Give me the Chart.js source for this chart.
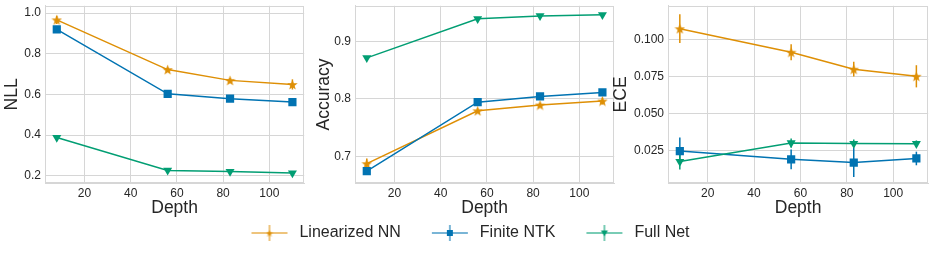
<!DOCTYPE html>
<html><head><meta charset="utf-8">
<script src="https://cdn.jsdelivr.net/npm/chart.js@4"></script>
<style>
html,body{margin:0;padding:0;background:#fff;width:934px;height:254px;overflow:hidden;position:relative}
canvas{position:absolute}
</style></head><body>
<canvas id="c1" style="left:0px;top:0px;width:310px;height:220px" width="310" height="220"></canvas>
<canvas id="c2" style="left:310px;top:0px;width:310px;height:220px" width="310" height="220"></canvas>
<canvas id="c3" style="left:610px;top:0px;width:324px;height:220px" width="324" height="220"></canvas>
<canvas id="leg" style="left:0px;top:198px;width:934px;height:56px" width="934" height="56"></canvas>
<script>
// ---- data ----
const depth = [8, 56, 83, 110];
const seriesNames = ['Linearized NN', 'Finite NTK', 'Full Net'];

const nllLinear = [0.967, 0.722, 0.669, 0.649];
const nllFinite = [0.920, 0.603, 0.579, 0.562];
const nllFull   = [0.388, 0.226, 0.220, 0.213];
const nllLinearErr = [0.020, 0.010, 0.010, 0.025];
const nllFiniteErr = [0.015, 0.006, 0.006, 0.006];
const nllFullErr   = [0.006, 0.004, 0.004, 0.004];

const accLinear = [0.687, 0.779, 0.789, 0.796];
const accFinite = [0.674, 0.794, 0.804, 0.811];
const accFull   = [0.871, 0.939, 0.944, 0.946];
const accLinearErr = [0.009, 0.004, 0.003, 0.006];
const accFiniteErr = [0.006, 0.004, 0.005, 0.004];
const accFullErr   = [0.003, 0.002, 0.002, 0.002];

const eceLinear = [0.1076, 0.0917, 0.0802, 0.0754];
const eceFinite = [0.0248, 0.0192, 0.0170, 0.0198];
const eceFull   = [0.0177, 0.0303, 0.0299, 0.0298];
const eceLinearErr = [0.0097, 0.0054, 0.0050, 0.0075];
const eceFiniteErr = [0.0092, 0.0067, 0.0098, 0.0046];
const eceFullErr   = [0.0054, 0.0030, 0.0028, 0.0022];

const xTicks = [20, 40, 60, 80, 100];
const nllTicks = [0.2, 0.4, 0.6, 0.8, 1.0];
const nllTickLabels = ['0.2', '0.4', '0.6', '0.8', '1.0'];
const accTicks = [0.7, 0.8, 0.9];
const accTickLabels = ['0.7', '0.8', '0.9'];
const eceTicks = [0.025, 0.050, 0.075, 0.100];
const eceTickLabels = ['0.025', '0.050', '0.075', '0.100'];

// ---- style ----
const FONT = "'Liberation Sans', Arial, Helvetica, sans-serif";
const TEXT = '#262626';
const GRID = '#d6d6d6';
const colors = ['#de8f05', '#0173b2', '#029e73'];
Chart.defaults.font.family = FONT;
Chart.defaults.color = TEXT;

function starImage(size, color) {
  const c = document.createElement('canvas');
  c.width = size; c.height = size;
  const g = c.getContext('2d');
  const R = size / 2, r = R * 0.42;
  g.fillStyle = color;
  g.beginPath();
  for (let k = 0; k < 10; k++) {
    const rad = k % 2 === 0 ? R : r;
    const a = -Math.PI / 2 + k * Math.PI / 5;
    const px = R + rad * Math.cos(a), py = R + 0.5 + rad * Math.sin(a);
    k === 0 ? g.moveTo(px, py) : g.lineTo(px, py);
  }
  g.closePath(); g.fill();
  return c;
}

function legendIcon(i) {
  const c = document.createElement('canvas');
  c.width = 40; c.height = 20;
  const g = c.getContext('2d');
  g.strokeStyle = colors[i]; g.fillStyle = colors[i];
  g.globalAlpha = 0.7; g.lineWidth = 1.5;
  g.beginPath(); g.moveTo(2, 10); g.lineTo(38, 10); g.stroke();
  g.beginPath(); g.moveTo(20, 2); g.lineTo(20, 18); g.stroke();
  g.globalAlpha = 1;
  if (i === 0) {
    g.drawImage(starImage(7, colors[0]), 16.5, 6.5);
  } else if (i === 1) {
    g.fillRect(17, 7, 6, 6);
  } else {
    g.beginPath(); g.moveTo(16.5, 7.5); g.lineTo(23.5, 7.5); g.lineTo(20, 13.5); g.closePath(); g.fill();
  }
  return c;
}

const markerStyles = [starImage(11, colors[0]), 'rect', 'triangle'];
const markerRadius = [5, 5.8, 5.2];
const markerRotation = [0, 0, 180];

const errorBarPlugin = {
  id: 'errbars',
  beforeDatasetsDraw(chart) {
    const {ctx, chartArea: a, scales: {x, y}} = chart;
    ctx.save();
    ctx.strokeStyle = GRID; ctx.lineWidth = 1;
    ctx.strokeRect(Math.round(a.left) + 0.5, Math.round(a.top) + 0.5, Math.round(a.right - a.left) - 1, Math.round(a.bottom - a.top) - 1);
    chart.data.datasets.forEach(ds => {
      if (!ds.errors) return;
      ctx.strokeStyle = ds.borderColor; ctx.lineWidth = 1.5;
      ds.data.forEach((pt, j) => {
        const px = x.getPixelForValue(pt.x);
        ctx.beginPath();
        ctx.moveTo(px, y.getPixelForValue(pt.y - ds.errors[j]));
        ctx.lineTo(px, y.getPixelForValue(pt.y + ds.errors[j]));
        ctx.stroke();
      });
    });
    ctx.restore();
  }
};

function makePanel(id, yTitle, yMin, yMax, yTicks, yLabels, values, errors, axisW, titlePad, padRight) {
  const datasets = values.map((vals, i) => ({
    label: seriesNames[i],
    data: depth.map((d, j) => ({x: d, y: vals[j]})),
    errors: errors[i],
    borderColor: colors[i],
    backgroundColor: colors[i],
    borderWidth: 1.5,
    pointStyle: markerStyles[i],
    pointRadius: markerRadius[i],
    pointRotation: markerRotation[i],
    pointBorderWidth: 0,
    pointBackgroundColor: colors[i],
    order: 3 - i,
    tension: 0
  }));
  return new Chart(document.getElementById(id), {
    type: 'line',
    data: {datasets},
    plugins: [errorBarPlugin],
    options: {
      responsive: false, animation: false, events: [],
      layout: {padding: {left: 0, right: padRight, top: 5, bottom: 0}},
      plugins: {legend: {display: false}, tooltip: {enabled: false}},
      scales: {
        x: {
          type: 'linear', min: 2.9, max: 115.1,
          afterBuildTicks: s => { s.ticks = xTicks.map(v => ({value: v})); },
          afterFit: s => { s.height = 37; s.paddingLeft = 0; s.paddingRight = 0; },
          ticks: {padding: 3, font: {size: 12}, color: TEXT, callback: v => String(v), maxRotation: 0},
          grid: {color: GRID, lineWidth: 1, drawTicks: false},
          border: {color: GRID, width: 1},
          title: {display: true, text: 'Depth', font: {size: 17.5}, color: TEXT, padding: {top: 0, bottom: 1}}
        },
        y: {
          type: 'linear', min: yMin, max: yMax,
          afterBuildTicks: s => { s.ticks = yTicks.map(v => ({value: v})); },
          afterFit: s => { s.width = axisW; s.paddingTop = 0; s.paddingBottom = 0; },
          ticks: {padding: 4, font: {size: 12}, color: TEXT,
                  callback: (v) => { const k = yTicks.findIndex(t => Math.abs(t - v) < 1e-9); return k >= 0 ? yLabels[k] : ''; }},
          grid: {color: GRID, lineWidth: 1, drawTicks: false},
          border: {color: GRID, width: 1},
          title: {display: true, text: yTitle, font: {size: 17.5}, color: TEXT, padding: {top: titlePad, bottom: 0}}
        }
      }
    }
  });
}

makePanel('c1', 'NLL', 0.164, 1.036, nllTicks, nllTickLabels,
  [nllLinear, nllFinite, nllFull], [nllLinearErr, nllFiniteErr, nllFullErr], 45, 1.5, 4);
makePanel('c2', 'Accuracy', 0.6534, 0.9616, accTicks, accTickLabels,
  [accLinear, accFinite, accFull], [accLinearErr, accFiniteErr, accFullErr], 45, 4, 4);
makePanel('c3', 'ECE', 0.0032, 0.1231, eceTicks, eceTickLabels,
  [eceLinear, eceFinite, eceFull], [eceLinearErr, eceFiniteErr, eceFullErr], 58, 0.5, 5);

const legendIcons = [0, 1, 2].map(legendIcon);
new Chart(document.getElementById('leg'), {
  type: 'line',
  data: {datasets: seriesNames.map((n, i) => ({label: n, data: [], borderColor: colors[i]}))},
  options: {
    responsive: false, animation: false, events: [],
    layout: {padding: {left: 3, top: 0}},
    scales: {x: {display: false}, y: {display: false}},
    plugins: {
      tooltip: {enabled: false},
      legend: {
        display: true, position: 'top', maxHeight: 56,
        labels: {
          usePointStyle: true, pointStyleWidth: 44, padding: 27, color: TEXT,
          font: {size: 16},
          generateLabels: chart => chart.data.datasets.map((d, i) => ({
            text: d.label, pointStyle: legendIcons[i], fillStyle: colors[i], strokeStyle: colors[i],
            lineWidth: 0, hidden: false, datasetIndex: i, fontColor: TEXT
          }))
        }
      }
    }
  }
});
</script>
</body></html>
